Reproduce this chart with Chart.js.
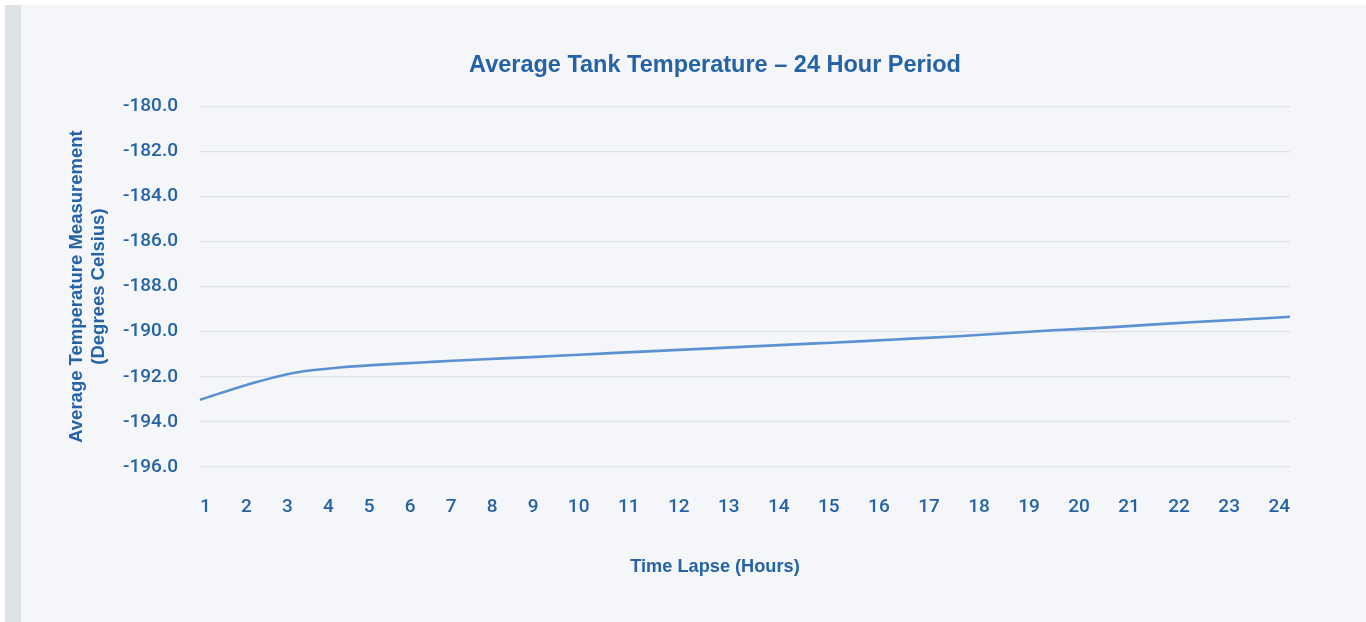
<!DOCTYPE html>
<html>
<head>
<meta charset="utf-8">
<script src="https://cdn.jsdelivr.net/npm/chart.js@4.4.1/dist/chart.umd.min.js"></script>
<style>
  html, body { margin: 0; padding: 0; background: #ffffff; width: 1366px; height: 622px; overflow: hidden; }
  #bar { position: absolute; left: 5px; top: 5px; width: 16px; height: 617px; background: #dde2e5; }
  #panel { position: absolute; left: 21px; top: 5px; width: 1345px; height: 617px; background: #f4f6fa; }
  #wrap { position: absolute; left: 0; top: 0; width: 1366px; height: 622px; }
</style>
</head>
<body>
<div id="bar"></div>
<div id="panel"></div>
<div id="wrap"><canvas id="c" width="1366" height="622"></canvas></div>
<script>
const chartTitle = "Average Tank Temperature \u2013 24 Hour Period";
const xTitle = "Time Lapse (Hours)";
const yTitle = ["Average Temperature Measurement", "(Degrees Celsius)"];
const hours = ["1","2","3","4","5","6","7","8","9","10","11","12","13","14","15","16","17","18","19","20","21","22","23","24"];
const avgTemp = [-193.02, -192.35, -191.82, -191.58, -191.44, -191.33, -191.22, -191.13, -191.02, -190.92, -190.82, -190.72, -190.62, -190.52, -190.42, -190.31, -190.20, -190.07, -189.94, -189.83, -189.70, -189.57, -189.46, -189.34];
const yMin = -196, yMax = -180, yStep = 2;

const textColor = "#2563a6";
const fontFamily = "'Liberation Sans', Arial, Helvetica, sans-serif";
const tickFamily = "Roboto, 'Liberation Sans', Arial, sans-serif";

// Spread x tick labels edge to edge with equal gaps between them (as in the reference)
const spreadLabels = {
  id: 'spreadLabels',
  beforeDraw(chart) {
    const scale = chart.scales.x;
    const area = chart.chartArea;
    const items = scale.getLabelItems(area);
    if (!items || items.length < 2) return;
    const ctx = chart.ctx;
    ctx.save();
    const widths = items.map(it => { ctx.font = it.font.string; return ctx.measureText(String(it.label)).width; });
    ctx.restore();
    const n = items.length;
    const eff = widths.map(w => w * 0.84);
    const first = area.left + widths[0] / 2;
    const last = area.right - widths[n - 1] / 2;
    let sumHalf = 0;
    for (let i = 0; i < n - 1; i++) sumHalf += (eff[i] + eff[i + 1]) / 2;
    const gap = (last - first - sumHalf) / (n - 1);
    let x = first;
    items.forEach((it, i) => {
      it.options.translation[0] = x;
      it.options.textAlign = 'center';
      if (i < n - 1) x += (eff[i] + eff[i + 1]) / 2 + gap;
    });
  }
};

new Chart(document.getElementById('c'), {
  type: 'line',
  data: {
    labels: hours,
    datasets: [{
      data: avgTemp,
      borderColor: '#5b91d0',
      borderWidth: 2.6,
      pointRadius: 0,
      pointHoverRadius: 0,
      fill: false,
      cubicInterpolationMode: 'monotone'
    }]
  },
  plugins: [spreadLabels],
  options: {
    responsive: false,
    animation: false,
    events: [],
    layout: { padding: { left: 140, right: 76, top: 0, bottom: 0 } },
    plugins: {
      legend: { display: false },
      tooltip: { enabled: false },
      title: {
        display: true,
        text: chartTitle,
        color: textColor,
        font: { family: fontFamily, size: 23.5, weight: 'bold', lineHeight: 1.2 },
        padding: { top: 51, bottom: 27 }
      },
      subtitle: {
        display: true,
        position: 'bottom',
        text: xTitle,
        color: textColor,
        font: { family: fontFamily, size: 18.2, weight: 'bold', lineHeight: 1.2 },
        padding: { top: 9.1, bottom: 44.1 }
      }
    },
    scales: {
      x: {
        grid: { display: false, drawTicks: false },
        border: { display: false },
        ticks: {
          color: textColor,
          padding: 28.6,
          maxRotation: 0,
          autoSkip: false,
          font: { family: tickFamily, size: 19, weight: 500, lineHeight: 1.2 }
        }
      },
      y: {
        min: yMin,
        max: yMax,
        afterFit(scale) {
          scale.width = 60;
          // let the tick labels extend left of the (narrow) axis box
          scale._computeLabelArea = () => undefined;
        },
        grid: { color: '#dfe2ea', lineWidth: 1.3, drawTicks: false },
        border: { display: false },
        ticks: {
          stepSize: yStep,
          color: textColor,
          padding: 22,
          font: { family: tickFamily, size: 19, weight: 500, lineHeight: 1.2 },
          callback: v => Number(v).toFixed(1)
        },
        title: {
          display: true,
          text: yTitle,
          color: textColor,
          font: { family: fontFamily, size: 18.5, weight: 'bold', lineHeight: 1.22 },
          padding: { top: -74.8, bottom: 0 }
        }
      }
    }
  }
});
</script>
</body>
</html>
